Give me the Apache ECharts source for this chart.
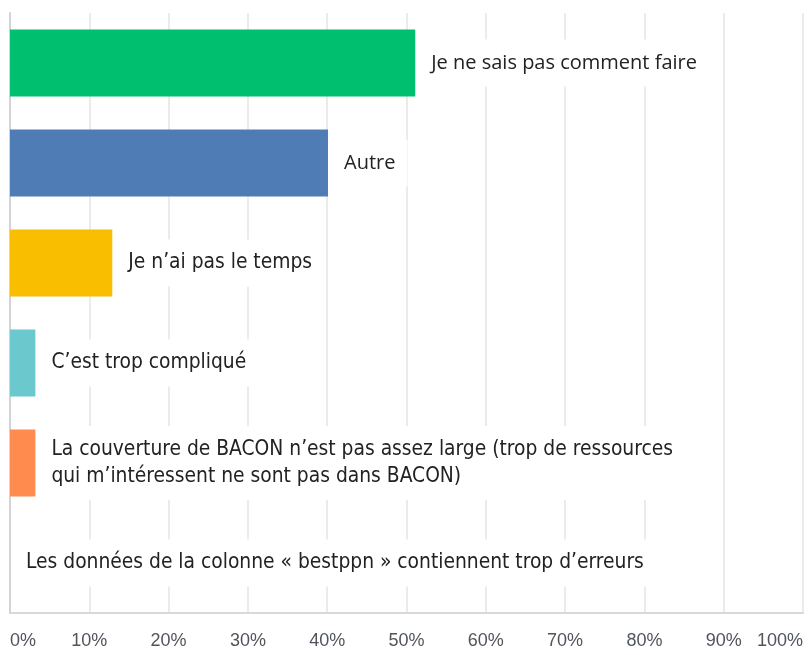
<!DOCTYPE html>
<html>
<head>
<meta charset="utf-8">
<style>
  html, body { margin: 0; padding: 0; background: #fff; }
  #chart { width: 808px; height: 655px; }
</style>
<script src="https://cdn.jsdelivr.net/npm/echarts@6/dist/echarts.min.js"></script>
</head>
<body>
<div id="chart"></div>
<script>
const categories = [
  'Je ne sais pas comment faire',
  'Autre',
  'Je n’ai pas le temps',
  'C’est trop compliqué',
  'La couverture de BACON n’est pas assez large (trop de ressources\nqui m’intéressent ne sont pas dans BACON)',
  'Les données de la colonne « bestppn » contiennent trop d’erreurs'
]
const values = [51.1, 40.1, 12.9, 3.2, 3.2, 0]
const xTicks = [0, 10, 20, 30, 40, 50, 60, 70, 80, 90, 100]

const COLORS = ['#00bf6f', '#507cb6', '#f9be00', '#6bc8cd', '#ff8b4f', '#a0a0a0']
// the first two labels use a wider face, the rest a narrow one
const WIDE_FONT = '"Open Sans", "Noto Sans", sans-serif'
const NARROW_FONT = '"DejaVu Sans Condensed", sans-serif'

const barData = values.map((val, idx) => ({
  value: val,
  itemStyle: { color: COLORS[idx] },
  label: idx < 2
    ? { fontFamily: WIDE_FONT, fontSize: 20 }
    : { fontFamily: NARROW_FONT, fontSize: 20.8 }
}))

const chart = echarts.init(document.getElementById('chart'))
chart.setOption({
  animation: false,
  grid: { left: 10, right: 5, top: 13, bottom: 42 },
  xAxis: {
    type: 'value',
    min: xTicks[0],
    max: xTicks[xTicks.length - 1],
    interval: xTicks[1] - xTicks[0],
    axisLine: { show: true, lineStyle: { color: '#d9d9d9', width: 2 } },
    axisTick: { show: false },
    splitLine: { show: true, lineStyle: { color: '#ebebeb', width: 2 } },
    axisLabel: {
      margin: 19,
      color: '#50555c',
      fontSize: 18,
      fontFamily: 'Arial, "Liberation Sans", sans-serif',
      alignMinLabel: 'left',
      alignMaxLabel: 'right',
      formatter: '{value}%'
    }
  },
  yAxis: {
    type: 'category',
    inverse: true,
    data: categories,
    axisLine: { show: true, lineStyle: { color: '#d4d4d8', width: 2 } },
    axisTick: { show: false },
    axisLabel: { show: false },
    splitLine: { show: false }
  },
  series: [
    {
      type: 'bar',
      data: barData,
      barWidth: 67,
      label: {
        show: true,
        position: 'right',
        distance: 4,
        color: '#222',
        lineHeight: 27,
        backgroundColor: '#fff',
        padding: [10, 12],
        formatter: (p) => p.name
      }
    }
  ]
})
</script>
</body>
</html>
